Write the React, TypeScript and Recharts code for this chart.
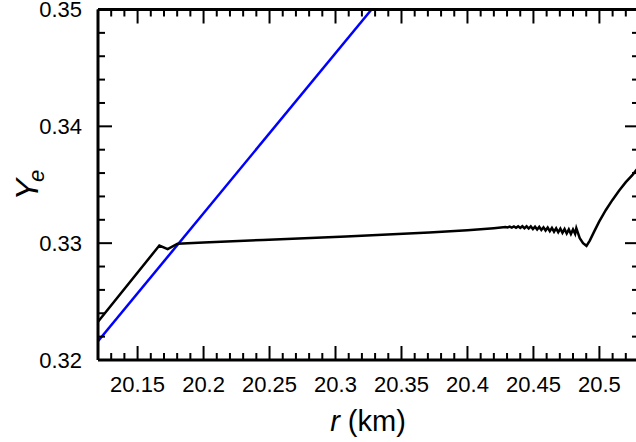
import { LineChart, Line, XAxis, YAxis } from "recharts"

// radius ticks (km), one every 0.01, labelled every 0.05
const rTicks = [
  20.12, 20.13, 20.14, 20.15, 20.16, 20.17, 20.18, 20.19, 20.2, 20.21, 20.22,
  20.23, 20.24, 20.25, 20.26, 20.27, 20.28, 20.29, 20.3, 20.31, 20.32, 20.33,
  20.34, 20.35, 20.36, 20.37, 20.38, 20.39, 20.4, 20.41, 20.42, 20.43, 20.44,
  20.45, 20.46, 20.47, 20.48, 20.49, 20.5, 20.51, 20.52, 20.53,
]
// Ye ticks, one every 0.002, labelled every 0.01
const yeTicks = [
  0.32, 0.322, 0.324, 0.326, 0.328, 0.33, 0.332, 0.334, 0.336, 0.338, 0.34,
  0.342, 0.344, 0.346, 0.348, 0.35,
]

const blueR = [20.12, 20.3273]
const blueYe = [0.3216, 0.35]

const blackR = [
  20.12, 20.1665, 20.1728, 20.1803, 20.2, 20.245, 20.308, 20.371, 20.4, 20.42,
  20.4288, 20.4304, 20.432, 20.4336, 20.4352, 20.4368, 20.4384, 20.44, 20.4416,
  20.4432, 20.4448, 20.4464, 20.448, 20.4496, 20.4512, 20.4528, 20.4544, 20.456,
  20.4576, 20.4592, 20.4608, 20.4624, 20.464, 20.4656, 20.4672, 20.4688, 20.4704,
  20.472, 20.4736, 20.4752, 20.4768, 20.4784, 20.48, 20.4816, 20.4825, 20.4851,
  20.4876, 20.4902, 20.4927, 20.496, 20.4998, 20.5049, 20.5099, 20.515, 20.52,
  20.5251, 20.5276, 20.53,
]
const blackYe = [
  0.32328, 0.3298, 0.32949, 0.32995, 0.33006, 0.33028, 0.33056, 0.33091, 0.3311,
  0.33128, 0.33138, 0.33134, 0.33142, 0.33133, 0.33143, 0.33132, 0.33144,
  0.3313, 0.33145, 0.33128, 0.33144, 0.33125, 0.33143, 0.33121, 0.33141,
  0.33117, 0.33139, 0.33113, 0.33136, 0.33108, 0.33133, 0.33103, 0.3313,
  0.33098, 0.33127, 0.33093, 0.33124, 0.33088, 0.33121, 0.33083, 0.33118,
  0.33078, 0.33117, 0.3308, 0.33128, 0.33043, 0.33, 0.32977, 0.33022, 0.33099,
  0.33184, 0.33284, 0.3337, 0.3345, 0.33522, 0.33584, 0.33621, 0.3365,
]

const blueData = blueR.map((r, i) => ({ r, ye: blueYe[i] }))
const blackData = blackR.map((r, i) => ({ r, ye: blackYe[i] }))

const font = "'Liberation Sans', Arial, sans-serif"
const isMajorR = (v: number) => Math.round(v * 100) % 5 === 0
const isMajorYe = (v: number) => Math.round(v * 1000) % 10 === 0
const fmtR = (v: number) => String(Number(v.toFixed(2)))

function BottomTick({ x, y, payload }: any) {
  const major = isMajorR(payload.value)
  return (
    <g>
      <line x1={x} x2={x} y1={y} y2={y - (major ? 14 : 7)} stroke="#000" strokeWidth={2} />
      {major && (
        <text x={x} y={y + 32} textAnchor="middle" fontSize={22} fontFamily={font} fill="#000">
          {fmtR(payload.value)}
        </text>
      )}
    </g>
  )
}

function TopTick({ x, y, payload }: any) {
  const major = isMajorR(payload.value)
  return <line x1={x} x2={x} y1={y} y2={y + (major ? 14 : 7)} stroke="#000" strokeWidth={2} />
}

function LeftTick({ x, y, payload }: any) {
  const major = isMajorYe(payload.value)
  return (
    <g>
      <line x1={x} x2={x + (major ? 14 : 7)} y1={y} y2={y} stroke="#000" strokeWidth={2} />
      {major && (
        <text x={x - 16} y={y + 7.5} textAnchor="end" fontSize={22} fontFamily={font} fill="#000">
          {payload.value.toFixed(2)}
        </text>
      )}
    </g>
  )
}

function RightTick({ x, y, payload }: any) {
  const major = isMajorYe(payload.value)
  return <line x1={x} x2={x - (major ? 14 : 7)} y1={y} y2={y} stroke="#000" strokeWidth={2} />
}

const frame = { stroke: "#000", strokeWidth: 3 }

export default function App() {
  return (
    <div style={{ position: "absolute", left: 0, top: 0, width: 636, height: 442, overflow: "hidden", background: "#fff" }}>
      <LineChart width={650} height={442} margin={{ top: 8.5, right: 10, bottom: 0, left: 0 }}>
        <XAxis
          dataKey="r"
          type="number"
          domain={[20.12, 20.53]}
          allowDataOverflow
          ticks={rTicks}
          interval={0}
          tickLine={false}
          tickSize={0}
          tickMargin={0}
          axisLine={frame}
          height={82}
          tick={<BottomTick />}
          label={() => (
            <text x={368} y={431} textAnchor="middle" fontSize={29} fontFamily={font} fill="#000">
              <tspan fontStyle="italic">r</tspan> (km)
            </text>
          )}
        />
        <XAxis
          xAxisId="top"
          orientation="top"
          dataKey="r"
          type="number"
          domain={[20.12, 20.53]}
          allowDataOverflow
          ticks={rTicks}
          interval={0}
          tickLine={false}
          tickSize={0}
          tickMargin={0}
          axisLine={frame}
          height={1}
          tick={<TopTick />}
        />
        <YAxis
          dataKey="ye"
          type="number"
          domain={[0.32, 0.35]}
          allowDataOverflow
          ticks={yeTicks}
          interval={0}
          tickLine={false}
          tickSize={0}
          tickMargin={0}
          axisLine={frame}
          width={98}
          tick={<LeftTick />}
          label={() => (
            <text
              x={38}
              y={185}
              transform="rotate(-90, 38, 185)"
              textAnchor="middle"
              fontSize={32}
              fontFamily={font}
              fontStyle="italic"
              fill="#000"
            >
              Y<tspan fontSize={22} dx={-3} dy={6}>e</tspan>
            </text>
          )}
        />
        <YAxis
          yAxisId="right"
          orientation="right"
          dataKey="ye"
          type="number"
          domain={[0.32, 0.35]}
          allowDataOverflow
          ticks={yeTicks}
          interval={0}
          tickLine={false}
          tickSize={0}
          tickMargin={0}
          axisLine={frame}
          width={1}
          tick={<RightTick />}
        />
        <Line
          xAxisId="top"
          yAxisId="right"
          data={blueData}
          dataKey="ye"
          stroke="none"
          dot={false}
          legendType="none"
          isAnimationActive={false}
        />
        <Line
          data={blueData}
          dataKey="ye"
          type="linear"
          stroke="#0000ff"
          strokeWidth={2.5}
          dot={false}
          isAnimationActive={false}
        />
        <Line
          data={blackData}
          dataKey="ye"
          type="linear"
          stroke="#000"
          strokeWidth={2.5}
          dot={false}
          isAnimationActive={false}
        />
      </LineChart>
    </div>
  )
}
